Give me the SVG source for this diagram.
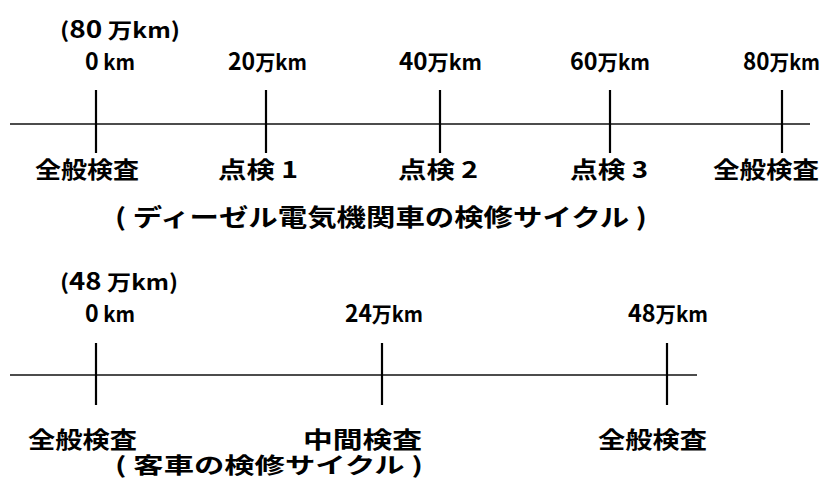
<svg xmlns="http://www.w3.org/2000/svg" width="826" height="479" viewBox="0 0 826 479">
<style>
text{font-family:"Noto Sans CJK JP","Noto Sans",sans-serif;fill:#000;}
.km{font-size:21px;font-weight:bold;}
.km .d{font-size:24px;}
.lbl{font-size:23px;font-weight:bold;}
.sub{font-size:24px;font-weight:bold;}
.sub2{font-size:22px;font-weight:bold;}
.axis{stroke:#111;stroke-width:1.6;fill:none;}
.tick{stroke:#000;stroke-width:2.2;fill:none;}
</style>
<rect width="826" height="479" fill="#fff"/>
<g id="connectors">
<line class="axis" x1="10" y1="124" x2="810" y2="124"/>
<line class="tick" x1="96" y1="90" x2="96" y2="153"/>
<line class="tick" x1="266" y1="90" x2="266" y2="153"/>
<line class="tick" x1="440" y1="90" x2="440" y2="153"/>
<line class="tick" x1="610" y1="90" x2="610" y2="153"/>
<line class="tick" x1="782" y1="90" x2="782" y2="153"/>
<line class="axis" x1="10" y1="375" x2="697" y2="375"/>
<line class="tick" x1="96" y1="343" x2="96" y2="405"/>
<line class="tick" x1="382" y1="343" x2="382" y2="405"/>
<line class="tick" x1="667" y1="343" x2="667" y2="405"/>
</g>
<g id="diesel-total"><text class="km" x="60" y="38" textLength="120" lengthAdjust="spacingAndGlyphs">(<tspan class="d">80</tspan> 万km)</text></g>
<g id="diesel-0"><text class="km" x="85" y="70" textLength="50" lengthAdjust="spacingAndGlyphs"><tspan class="d">0</tspan> km</text>
<text class="lbl" x="35" y="178" textLength="104" lengthAdjust="spacingAndGlyphs">全般検査</text></g>
<g id="diesel-20"><text class="km" x="228" y="70" textLength="79" lengthAdjust="spacingAndGlyphs"><tspan class="d">20</tspan>万km</text>
<text class="lbl" x="218" y="178" textLength="80" lengthAdjust="spacingAndGlyphs">点検 1</text></g>
<g id="diesel-40"><text class="km" x="399" y="70" textLength="83" lengthAdjust="spacingAndGlyphs"><tspan class="d">40</tspan>万km</text>
<text class="lbl" x="398" y="178" textLength="80" lengthAdjust="spacingAndGlyphs">点検 2</text></g>
<g id="diesel-60"><text class="km" x="570" y="70" textLength="80" lengthAdjust="spacingAndGlyphs"><tspan class="d">60</tspan>万km</text>
<text class="lbl" x="570" y="178" textLength="78" lengthAdjust="spacingAndGlyphs">点検 3</text></g>
<g id="diesel-80"><text class="km" x="743" y="70" textLength="77" lengthAdjust="spacingAndGlyphs"><tspan class="d">80</tspan>万km</text>
<text class="lbl" x="713" y="178" textLength="106" lengthAdjust="spacingAndGlyphs">全般検査</text></g>
<g id="diesel-caption"><text class="sub" x="115" y="226" textLength="532" lengthAdjust="spacingAndGlyphs">( ディーゼル電気機関車の検修サイクル )</text></g>
<g id="coach-total"><text class="km" x="60" y="290" textLength="118" lengthAdjust="spacingAndGlyphs">(<tspan class="d">48</tspan> 万km)</text></g>
<g id="coach-0"><text class="km" x="85" y="322" textLength="50" lengthAdjust="spacingAndGlyphs"><tspan class="d">0</tspan> km</text>
<text class="lbl" x="28" y="448" textLength="109" lengthAdjust="spacingAndGlyphs">全般検査</text></g>
<g id="coach-24"><text class="km" x="345" y="322" textLength="78" lengthAdjust="spacingAndGlyphs"><tspan class="d">24</tspan>万km</text>
<text class="lbl" x="303" y="448" textLength="119" lengthAdjust="spacingAndGlyphs">中間検査</text></g>
<g id="coach-48"><text class="km" x="628" y="322" textLength="80" lengthAdjust="spacingAndGlyphs"><tspan class="d">48</tspan>万km</text>
<text class="lbl" x="598" y="448" textLength="109" lengthAdjust="spacingAndGlyphs">全般検査</text></g>
<g id="coach-caption"><text class="sub2" x="115" y="473" textLength="308" lengthAdjust="spacingAndGlyphs">( 客車の検修サイクル )</text></g>
</svg>
